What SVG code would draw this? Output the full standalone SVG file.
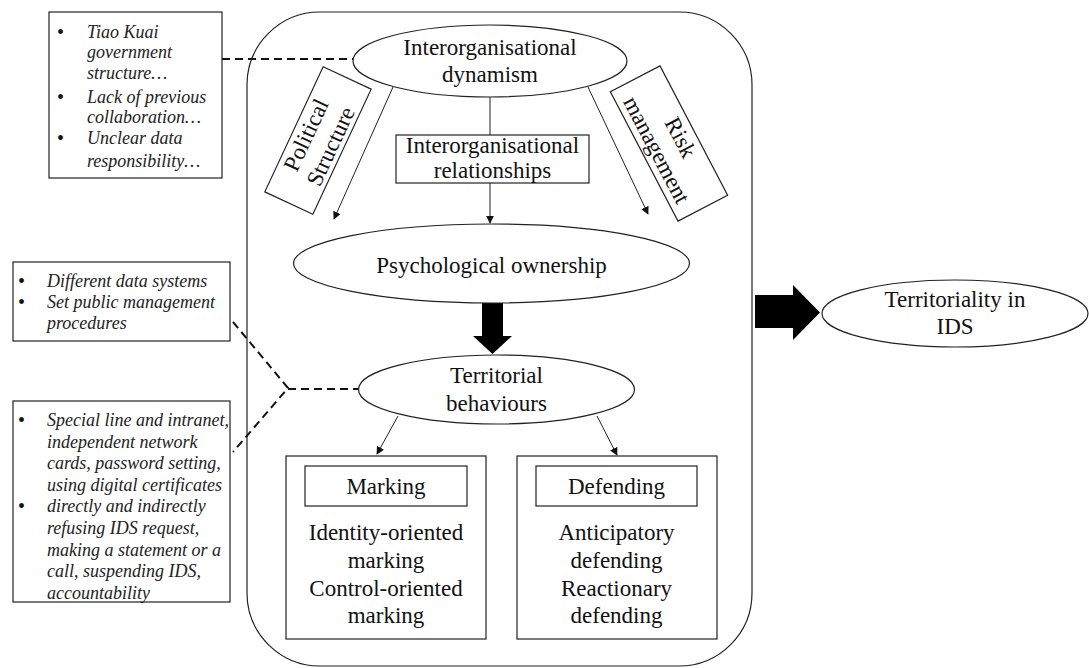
<svg xmlns="http://www.w3.org/2000/svg" width="1089" height="668" viewBox="0 0 1089 668">
<defs>
<style>
.shape{fill:#fff;stroke:#222;stroke-width:1.2}
.lbl{font-family:"Liberation Serif","Times New Roman",serif;font-size:23px;fill:#111;text-anchor:middle}
.note{font-family:"Liberation Serif","Times New Roman",serif;font-size:18px;font-style:italic;fill:#222}
.bul{font-family:"Liberation Serif",serif;font-size:20px;fill:#111}
.conn{fill:none;stroke:#222;stroke-width:1}
.dash{fill:none;stroke:#111;stroke-width:2;stroke-dasharray:8 5}
.big{fill:#000}
</style>
<marker id="ah" viewBox="0 0 10 10" refX="9" refY="5" markerWidth="8" markerHeight="8" markerUnits="userSpaceOnUse" orient="auto">
<path d="M0,0 L10,5 L0,10 z" fill="#111"/>
</marker>
</defs>
<rect width="1089" height="668" fill="#fff"/>

<g id="container">
<rect class="shape" x="247" y="12" width="505" height="654" rx="73" ry="73"/>
</g>

<g id="connectors">
<path class="dash" d="M222,59 L353,59"/>
<path class="dash" d="M233,322 L288,388 L233,452"/>
<path class="dash" d="M288,389 L358,389"/>
<line class="conn" x1="490" y1="97" x2="490" y2="135"/>
<line class="conn" x1="490" y1="183" x2="490" y2="223" marker-end="url(#ah)"/>
<line class="conn" x1="393" y1="87" x2="334" y2="219" marker-end="url(#ah)"/>
<line class="conn" x1="588" y1="87" x2="648" y2="214" marker-end="url(#ah)"/>
<line class="conn" x1="398" y1="416" x2="377" y2="454" marker-end="url(#ah)"/>
<line class="conn" x1="597" y1="416" x2="617" y2="455" marker-end="url(#ah)"/>
<polygon class="big" points="482,303 503,303 503,336 512,336 492.5,354 473,336 482,336"/>
<polygon class="big" points="755,295 793,295 793,285 820,312.5 793,340 793,328 755,328"/>
</g>

<g id="note-top">
<rect class="shape" x="49" y="12" width="173" height="166"/>
<text class="bul" x="57" y="39">•</text>
<text class="bul" x="57" y="104">•</text>
<text class="bul" x="57" y="145">•</text>
<text class="note" x="87" y="38">Tiao Kuai</text>
<text class="note" x="87" y="58">government</text>
<text class="note" x="87" y="79">structure…</text>
<text class="note" x="87" y="103">Lack of previous</text>
<text class="note" x="87" y="123">collaboration…</text>
<text class="note" x="87" y="144">Unclear data</text>
<text class="note" x="87" y="167">responsibility…</text>
</g>

<g id="note-mid">
<rect class="shape" x="13" y="262" width="217" height="79"/>
<text class="bul" x="18" y="288">•</text>
<text class="bul" x="18" y="309">•</text>
<text class="note" x="47" y="287">Different data systems</text>
<text class="note" x="47" y="308">Set public management</text>
<text class="note" x="47" y="329">procedures</text>
</g>

<g id="note-bottom">
<rect class="shape" x="13" y="401" width="217" height="201"/>
<text class="bul" x="18" y="427">•</text>
<text class="bul" x="18" y="513">•</text>
<text class="note" x="47" y="426">Special line and intranet,</text>
<text class="note" x="47" y="447.6">independent network</text>
<text class="note" x="47" y="469.2">cards, password setting,</text>
<text class="note" x="47" y="490.8">using digital certificates</text>
<text class="note" x="47" y="512.4">directly and indirectly</text>
<text class="note" x="47" y="534">refusing IDS request,</text>
<text class="note" x="47" y="555.6">making a statement or a</text>
<text class="note" x="47" y="577.2">call, suspending IDS,</text>
<text class="note" x="47" y="598.8">accountability</text>
</g>

<g id="interorg-dynamism">
<ellipse class="shape" cx="490" cy="61" rx="137" ry="36"/>
<text class="lbl" x="490" y="55">Interorganisational</text>
<text class="lbl" x="490" y="82">dynamism</text>
</g>

<g id="political-structure" transform="translate(318,140.5) rotate(-65)">
<rect class="shape" x="-69" y="-26.5" width="138" height="53"/>
<text class="lbl" x="0" y="-5.5">Political</text>
<text class="lbl" x="0" y="21.5">Structure</text>
</g>

<g id="risk-management" transform="translate(669,143.5) rotate(62.4)">
<rect class="shape" x="-73" y="-28" width="146" height="56"/>
<text class="lbl" x="0" y="-5.5">Risk</text>
<text class="lbl" x="0" y="21.5">management</text>
</g>

<g id="interorg-relationships">
<rect class="shape" x="396" y="135" width="193" height="48"/>
<text class="lbl" x="492.5" y="153">Interorganisational</text>
<text class="lbl" x="492.5" y="178">relationships</text>
</g>

<g id="psych-ownership">
<ellipse class="shape" cx="491.5" cy="263.5" rx="198" ry="39.5"/>
<text class="lbl" x="491.5" y="273">Psychological ownership</text>
</g>

<g id="territorial-behaviours">
<ellipse class="shape" cx="496.5" cy="389.5" rx="138" ry="34.5"/>
<text class="lbl" x="496.5" y="383">Territorial</text>
<text class="lbl" x="496.5" y="411">behaviours</text>
</g>

<g id="marking">
<rect class="shape" x="286" y="456" width="200" height="183"/>
<rect class="shape" x="305" y="466" width="162" height="40"/>
<text class="lbl" x="386" y="494">Marking</text>
<text class="lbl" x="386" y="540">Identity-oriented</text>
<text class="lbl" x="386" y="568">marking</text>
<text class="lbl" x="386" y="596">Control-oriented</text>
<text class="lbl" x="386" y="623">marking</text>
</g>

<g id="defending">
<rect class="shape" x="517" y="456" width="200" height="183"/>
<rect class="shape" x="536" y="466" width="161" height="40"/>
<text class="lbl" x="616.5" y="494">Defending</text>
<text class="lbl" x="616.5" y="540">Anticipatory</text>
<text class="lbl" x="616.5" y="568">defending</text>
<text class="lbl" x="616.5" y="596">Reactionary</text>
<text class="lbl" x="616.5" y="623">defending</text>
</g>

<g id="territoriality-ids">
<ellipse class="shape" cx="955" cy="313.5" rx="133" ry="33.5"/>
<text class="lbl" x="955" y="307">Territoriality in</text>
<text class="lbl" x="955" y="334">IDS</text>
</g>
</svg>
